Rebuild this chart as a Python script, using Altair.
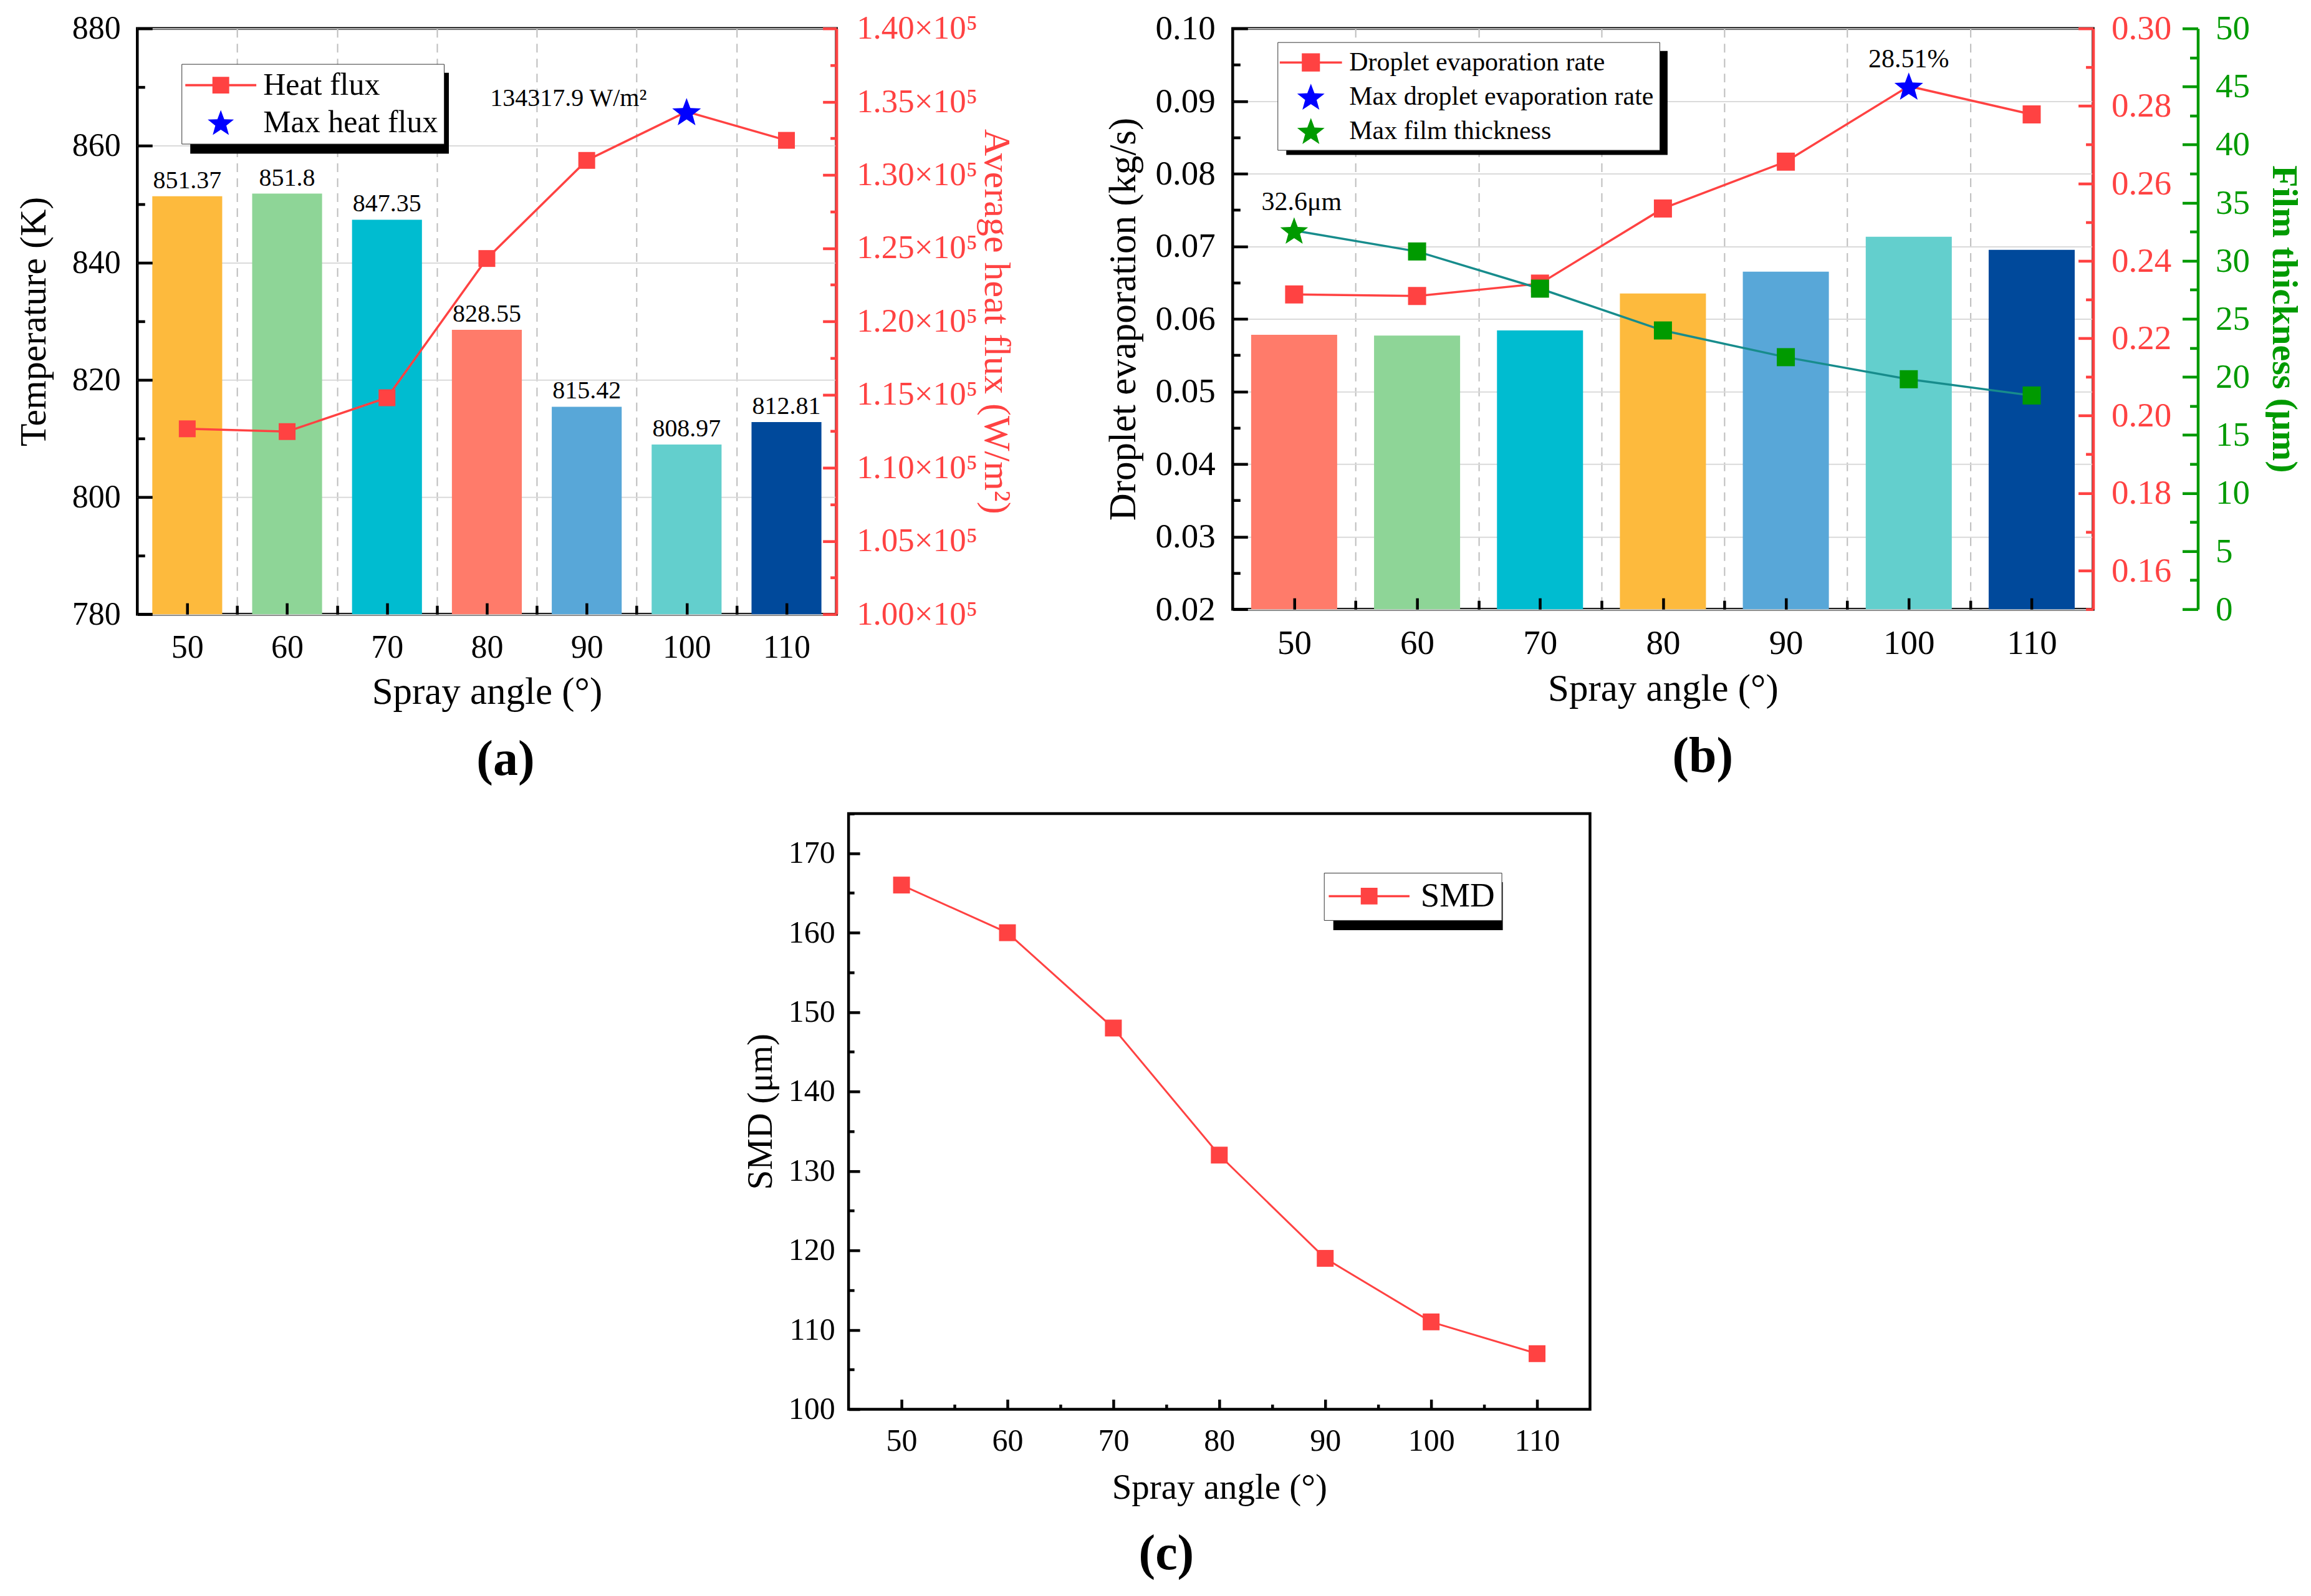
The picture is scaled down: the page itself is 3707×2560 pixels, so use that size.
import math

import altair as alt
import pandas as pd

FONT = "Liberation Serif"
RED = "#FF4242"
BLUE = "#0000FF"
GREEN = "#009A00"
TEAL = "#178C8C"

ANGLES = [50, 60, 70, 80, 90, 100, 110]

# panel (a)
TEMPERATURE = [851.37, 851.8, 847.35, 828.55, 815.42, 808.97, 812.81]
HEAT_FLUX = [112660, 112470, 114780, 124290, 130990, 134317.9, 132360]
BAR_COLORS_A = ["#FDBA3D", "#8ED597", "#00BCD0", "#FF7B6A", "#58A7D8", "#63CFCD", "#00499B"]
LEGEND_A = ["Heat flux", "Max heat flux"]

# panel (b)
DROPLET_EVAP = [0.0578, 0.0577, 0.0584, 0.0635, 0.0665, 0.0713, 0.0695]
EVAP_RATE = [0.2313, 0.2309, 0.2341, 0.2535, 0.2656, 0.2851, 0.2778]
FILM = [32.6, 30.8, 27.6, 24.0, 21.7, 19.8, 18.4]
BAR_COLORS_B = ["#FF7B6A", "#8ED597", "#00BCD0", "#FDBA3D", "#58A7D8", "#63CFCD", "#00499B"]
LEGEND_B = ["Droplet evaporation rate", "Max droplet evaporation rate", "Max film thickness"]

# panel (c)
SMD = [166, 160, 148, 132, 119, 111, 107]
LEGEND_C = ["SMD"]

# geometry
W_A, H_A = 1122, 940
W_B, H_B = 1381, 932
GREEN_OFFSET = 168
W_C, H_C = 1190, 956
X_DOMAIN = [45, 115]
BAR_HALF = 3.5

BOX_A = (71, 57, 415, 130)
BOX_B = (72, 22, 612, 167)
BOX_C = (763, 95, 272, 77)


def star_path(inner=0.42):
    pts = []
    for k in range(10):
        r = 1.0 if k % 2 == 0 else inner
        t = math.radians(-90 + 36 * k)
        pts.append(f"{r * math.cos(t):.4f},{r * math.sin(t) + 0.095:.4f}")
    return "M" + "L".join(pts) + "Z"


def line_square_path(half_len, half_sq, half_th):
    return (f"M{-half_len},{-half_th}L{half_len},{-half_th}L{half_len},{half_th}L{-half_len},{half_th}Z"
            f"M{-half_sq},{-half_sq}L{half_sq},{-half_sq}L{half_sq},{half_sq}L{-half_sq},{half_sq}Z")


STAR = star_path()


def xscale():
    return alt.Scale(domain=X_DOMAIN, nice=False, zero=False)


def yscale(lo, hi):
    return alt.Scale(domain=[lo, hi], nice=False, zero=False)


def steps(start, stop, step, nd=4):
    n = int(round((stop - start) / step))
    return [round(start + i * step, nd) for i in range(n + 1)]


def tick_axis(orient, offset, values, size, color="black"):
    return alt.Axis(orient=orient, offset=offset, values=values, labels=False, domain=False,
                    grid=False, ticks=True, tickSize=size, tickWidth=4.5, tickColor=color,
                    title=None, zindex=1)


def grid_axis(values):
    return alt.Axis(orient="bottom", values=values, labels=False, domain=False, ticks=False,
                    grid=True, gridColor="#BDBDBD", gridWidth=2, gridDash=[14, 10],
                    title=None, zindex=0)


def x_main(label_size, title_size, label_pad, title_pad):
    return alt.Axis(orient="bottom", values=ANGLES, labelFontSize=label_size,
                    labelPadding=label_pad, labelFlush=False, labelOverlap=False,
                    ticks=False, domain=False, grid=False, title="Spray angle (°)",
                    titleFontSize=title_size, titlePadding=title_pad, zindex=0)


def carrier(df, xf, yf, ysc, x_axis=None, y_axis=None):
    return alt.Chart(df).mark_point(opacity=0).encode(
        x=alt.X(xf, scale=xscale(), axis=x_axis),
        y=alt.Y(yf, scale=ysc, axis=y_axis),
    )


def legend_spec(box, font_size, sym_size, sym_offset, label_offset, padding, row_padding):
    return alt.Legend(orient="none", legendX=box[0], legendY=box[1], title=None,
                      labelFont=FONT, labelFontSize=font_size, labelColor="black",
                      labelLimit=2000, symbolSize=sym_size, symbolStrokeWidth=0,
                      symbolOffset=sym_offset, labelOffset=label_offset, padding=padding,
                      rowPadding=row_padding, fillColor="white", strokeColor="#333333")


def legend_layer(names, colors, shapes, leg, size):
    df = pd.DataFrame({"series": names})
    return alt.Chart(df).mark_point(filled=True, opacity=1, size=size, clip=True).encode(
        x=alt.XDatum(0, scale=xscale(), axis=None),
        y=alt.YDatum(0, scale=alt.Scale(domain=[1, 2]), axis=None),
        color=alt.Color("series:N", scale=alt.Scale(domain=names, range=colors), legend=leg),
        shape=alt.Shape("series:N", scale=alt.Scale(domain=names, range=shapes), legend=leg),
    )


def shadow_layer(box, shift=14):
    x0, y0, w, h = box
    return alt.Chart(pd.DataFrame({"part": ["shadow"]})).mark_rect(color="black").encode(
        x=alt.value(x0 + shift), x2=alt.value(x0 + w + shift),
        y=alt.value(y0 + shift), y2=alt.value(y0 + h + shift),
    )


def panel_title(text, dx=0):
    return alt.TitleParams(text=text, orient="bottom", fontSize=80, fontWeight="bold",
                           font=FONT, offset=40, anchor="middle", frame="bounds", dx=dx)


# ---------------- panel (a) ----------------
df_a = pd.DataFrame({"angle": ANGLES, "temp": TEMPERATURE, "flux": HEAT_FLUX,
                     "bar_color": BAR_COLORS_A})
df_a["lo"] = df_a["angle"] - BAR_HALF
df_a["hi"] = df_a["angle"] + BAR_HALF
df_a["is_max"] = df_a["flux"] == df_a["flux"].max()
df_a["temp_label"] = df_a["temp"].map(lambda v: f"{v:g}")
df_a["flux_label"] = df_a["flux"].map(lambda v: f"{v:.1f} W/m²")

T_MIN, T_MAX = 780, 880
T_SC = lambda: yscale(T_MIN, T_MAX)
F_SC = lambda: yscale(100000, 140000)

bars_a = alt.Chart(df_a).mark_bar().encode(
    x=alt.X("lo:Q", scale=xscale(), axis=x_main(52, 61, 28, 16)),
    x2="hi",
    y=alt.Y("temp:Q", scale=T_SC(), axis=alt.Axis(
        orient="left", values=steps(780, 880, 20), labelFontSize=52, labelPadding=27,
        ticks=False, domain=False, grid=True, gridColor="#DADADA", gridWidth=2,
        title="Temperature (K)", titleFontSize=60, titlePadding=30, zindex=0)),
    y2=alt.datum(T_MIN),
    fill=alt.Fill("bar_color:N", scale=None),
)
bar_text_a = alt.Chart(df_a).mark_text(font=FONT, fontSize=40, baseline="bottom", dy=-5,
                                       color="black").encode(
    x=alt.X("angle:Q", scale=xscale(), axis=grid_axis(steps(55, 105, 10))),
    y=alt.Y("temp:Q", scale=T_SC(), axis=tick_axis("right", -W_A, steps(780, 880, 20), 24)),
    text="temp_label:N",
)
car_a1 = carrier(df_a, "angle:Q", "temp:Q", T_SC(),
                 x_axis=tick_axis("top", -H_A, steps(50, 110, 10), 18),
                 y_axis=tick_axis("right", -W_A, steps(790, 870, 20), 12))
car_a2 = carrier(df_a, "angle:Q", "flux:Q", F_SC(),
                 x_axis=tick_axis("top", -H_A, steps(55, 105, 10), 14),
                 y_axis=tick_axis("left", -W_A, steps(100000, 140000, 5000), 22, RED))
line_a = alt.Chart(df_a).mark_line(color=RED, strokeWidth=3.5).encode(
    x=alt.X("angle:Q", scale=xscale(), axis=None),
    y=alt.Y("flux:Q", scale=F_SC(), axis=alt.Axis(
        orient="right", values=steps(100000, 140000, 5000),
        labelExpr="format(datum.value / 100000, '.2f') + '×10⁵'", labelColor=RED,
        labelFontSize=53, labelPadding=32, labelLimit=500, ticks=False, domain=True,
        domainColor=RED, domainWidth=4.5, grid=False, title="Average heat flux (W/m²)",
        titleColor=RED, titleFontSize=60, titlePadding=25, zindex=1)),
)
sq_a = alt.Chart(df_a).transform_filter("!datum.is_max").mark_point(
    shape="square", filled=True, size=729, opacity=1, color=RED).encode(
    x=alt.X("angle:Q", scale=xscale(), axis=None),
    y=alt.Y("flux:Q", scale=F_SC(), axis=tick_axis("left", -W_A, steps(102500, 137500, 5000), 10, RED)),
)
star_a = alt.Chart(df_a).transform_filter("datum.is_max").mark_point(
    shape=STAR, filled=True, size=2343, opacity=1, color=BLUE).encode(
    x=alt.X("angle:Q", scale=xscale(), axis=None),
    y=alt.Y("flux:Q", scale=F_SC(), axis=None),
)
ann_a = alt.Chart(df_a).transform_filter("datum.is_max").mark_text(
    font=FONT, fontSize=40, align="right", baseline="middle", dx=-64, dy=-21,
    color="black").encode(
    x=alt.X("angle:Q", scale=xscale(), axis=None),
    y=alt.Y("flux:Q", scale=F_SC(), axis=None),
    text="flux_label:N",
)
leg_a = legend_spec(BOX_A, 50, 1950, 29, 43, 9, 10)
legend_a = legend_layer(LEGEND_A, [RED, BLUE], [line_square_path(2.58, 0.61, 0.08), STAR], leg_a, 1950)

panel_a = alt.layer(
    bars_a, bar_text_a, car_a1, car_a2, line_a, sq_a, star_a, ann_a, shadow_layer(BOX_A), legend_a
).resolve_scale(y="independent").resolve_axis(x="independent", y="independent").properties(
    width=W_A, height=H_A, title=panel_title("(a)", -15))

# ---------------- panel (b) ----------------
df_b = pd.DataFrame({"angle": ANGLES, "evap": DROPLET_EVAP, "rate": EVAP_RATE, "film": FILM,
                     "bar_color": BAR_COLORS_B})
df_b["lo"] = df_b["angle"] - BAR_HALF
df_b["hi"] = df_b["angle"] + BAR_HALF
df_b["rate_max"] = df_b["rate"] == df_b["rate"].max()
df_b["film_max"] = df_b["film"] == df_b["film"].max()
df_b["rate_label"] = df_b["rate"].map(lambda v: f"{v * 100:.2f}%")
df_b["film_label"] = df_b["film"].map(lambda v: f"{v:.1f}μm")

E_MIN, E_MAX = 0.02, 0.10
E_SC = lambda: yscale(E_MIN, E_MAX)
R_SC = lambda: yscale(0.15, 0.30)
M_SC = lambda: yscale(0, 50)

bars_b = alt.Chart(df_b).mark_bar().encode(
    x=alt.X("lo:Q", scale=xscale(), axis=x_main(55, 61, 28, 16)),
    x2="hi",
    y=alt.Y("evap:Q", scale=E_SC(), axis=alt.Axis(
        orient="left", values=steps(0.02, 0.10, 0.01), format=".2f", labelFontSize=55,
        labelPadding=28, ticks=False, domain=False, grid=True, gridColor="#DADADA",
        gridWidth=2, title="Droplet evaporation (kg/s)", titleFontSize=61, titlePadding=20,
        zindex=0)),
    y2=alt.datum(E_MIN),
    fill=alt.Fill("bar_color:N", scale=None),
)
car_b1 = carrier(df_b, "angle:Q", "evap:Q", E_SC(),
                 x_axis=grid_axis(steps(55, 105, 10)),
                 y_axis=tick_axis("right", -W_B, steps(0.02, 0.10, 0.01), 24))
car_b2 = carrier(df_b, "angle:Q", "evap:Q", E_SC(),
                 x_axis=tick_axis("top", -H_B, steps(50, 110, 10), 18),
                 y_axis=tick_axis("right", -W_B, steps(0.025, 0.095, 0.01), 12))
car_b3 = carrier(df_b, "angle:Q", "rate:Q", R_SC(),
                 x_axis=tick_axis("top", -H_B, steps(55, 105, 10), 14),
                 y_axis=tick_axis("left", -W_B, steps(0.16, 0.30, 0.02), 24, RED))
car_b4 = carrier(df_b, "angle:Q", "film:Q", M_SC(),
                 y_axis=tick_axis("left", -(W_B + GREEN_OFFSET), steps(0, 50, 5), 25, GREEN))
line_rate = alt.Chart(df_b).mark_line(color=RED, strokeWidth=3.5).encode(
    x=alt.X("angle:Q", scale=xscale(), axis=None),
    y=alt.Y("rate:Q", scale=R_SC(), axis=alt.Axis(
        orient="right", values=steps(0.16, 0.30, 0.02), format=".2f", labelColor=RED,
        labelFontSize=55, labelPadding=29, ticks=False, domain=True, domainColor=RED,
        domainWidth=4.5, grid=False, title=None, zindex=1)),
)
sq_rate = alt.Chart(df_b).transform_filter("!datum.rate_max").mark_point(
    shape="square", filled=True, size=841, opacity=1, color=RED).encode(
    x=alt.X("angle:Q", scale=xscale(), axis=None),
    y=alt.Y("rate:Q", scale=R_SC(), axis=tick_axis("left", -W_B, steps(0.15, 0.29, 0.02), 12, RED)),
)
star_rate = alt.Chart(df_b).transform_filter("datum.rate_max").mark_point(
    shape=STAR, filled=True, size=2343, opacity=1, color=BLUE).encode(
    x=alt.X("angle:Q", scale=xscale(), axis=None),
    y=alt.Y("rate:Q", scale=R_SC(), axis=None),
)
ann_rate = alt.Chart(df_b).transform_filter("datum.rate_max").mark_text(
    font=FONT, fontSize=42, align="center", baseline="middle", dy=-43, color="black").encode(
    x=alt.X("angle:Q", scale=xscale(), axis=None),
    y=alt.Y("rate:Q", scale=R_SC(), axis=None),
    text="rate_label:N",
)
line_film = alt.Chart(df_b).mark_line(color=TEAL, strokeWidth=3.5).encode(
    x=alt.X("angle:Q", scale=xscale(), axis=None),
    y=alt.Y("film:Q", scale=M_SC(), axis=alt.Axis(
        orient="right", offset=GREEN_OFFSET, values=steps(0, 50, 5), labelColor=GREEN,
        labelFontSize=55, labelPadding=28, ticks=False, domain=True, domainColor=GREEN,
        domainWidth=4.5, grid=False, title="Film thickness (μm)", titleColor=GREEN,
        titleFontWeight="bold", titleFontSize=58, titlePadding=25, zindex=1)),
)
sq_film = alt.Chart(df_b).transform_filter("!datum.film_max").mark_point(
    shape="square", filled=True, size=841, opacity=1, color=GREEN).encode(
    x=alt.X("angle:Q", scale=xscale(), axis=None),
    y=alt.Y("film:Q", scale=M_SC(),
            axis=tick_axis("left", -(W_B + GREEN_OFFSET), steps(2.5, 47.5, 5), 13, GREEN)),
)
star_film = alt.Chart(df_b).transform_filter("datum.film_max").mark_point(
    shape=STAR, filled=True, size=2200, opacity=1, color=GREEN).encode(
    x=alt.X("angle:Q", scale=xscale(), axis=None),
    y=alt.Y("film:Q", scale=M_SC(), axis=None),
)
ann_film = alt.Chart(df_b).transform_filter("datum.film_max").mark_text(
    font=FONT, fontSize=42, align="center", baseline="middle", dx=12, dy=-46,
    color="black").encode(
    x=alt.X("angle:Q", scale=xscale(), axis=None),
    y=alt.Y("film:Q", scale=M_SC(), axis=None),
    text="film_label:N",
)
leg_b = legend_spec(BOX_B, 42, 2135, 21, 38, 9, 10)
legend_b = legend_layer(LEGEND_B, [RED, BLUE, GREEN],
                        [line_square_path(2.16, 0.63, 0.076), STAR, STAR], leg_b, 2135)

panel_b = alt.layer(
    bars_b, car_b1, car_b2, car_b3, car_b4, line_rate, sq_rate, line_film, sq_film,
    star_rate, star_film, ann_rate, ann_film, shadow_layer(BOX_B), legend_b
).resolve_scale(y="independent").resolve_axis(x="independent", y="independent").properties(
    width=W_B, height=H_B, title=panel_title("(b)"))

# ---------------- panel (c) ----------------
df_c = pd.DataFrame({"angle": ANGLES, "smd": SMD})
S_SC = lambda: yscale(100, 175)

line_c = alt.Chart(df_c).mark_line(color=RED, strokeWidth=3).encode(
    x=alt.X("angle:Q", scale=xscale(), axis=x_main(50, 57, 26, 22)),
    y=alt.Y("smd:Q", scale=S_SC(), axis=alt.Axis(
        orient="left", values=steps(100, 170, 10), labelFontSize=50, labelPadding=22,
        ticks=False, domain=False, grid=False, title="SMD (μm)", titleFontSize=57,
        titlePadding=15, zindex=0)),
)
pts_c = alt.Chart(df_c).mark_point(shape="square", filled=True, size=729, opacity=1,
                                   color=RED).encode(
    x=alt.X("angle:Q", scale=xscale(), axis=tick_axis("top", -H_C, steps(50, 110, 10), 16)),
    y=alt.Y("smd:Q", scale=S_SC(), axis=tick_axis("right", -W_C, steps(100, 170, 10), 18)),
)
car_c = carrier(df_c, "angle:Q", "smd:Q", S_SC(),
                x_axis=tick_axis("top", -H_C, steps(55, 105, 10), 8),
                y_axis=tick_axis("right", -W_C, steps(105, 175, 10), 9))
leg_c = legend_spec(BOX_C, 55, 2304, 35, 55, 10, 0)
legend_c = legend_layer(LEGEND_C, [RED], [line_square_path(2.7, 0.56, 0.073)], leg_c, 2304)

panel_c = alt.layer(
    line_c, pts_c, car_c, shadow_layer(BOX_C, 15), legend_c
).resolve_scale(y="independent").resolve_axis(x="independent", y="independent").properties(
    width=W_C, height=H_C, title=panel_title("(c)"))

top = alt.hconcat(panel_a, panel_b, spacing=138).resolve_scale(
    color="independent", shape="independent")
chart = alt.vconcat(top, panel_c, spacing=38, center=True).resolve_scale(
    color="independent", shape="independent"
).properties(
    padding={"left": 14, "top": 7, "right": 5, "bottom": 5}, background="white"
).configure_view(
    stroke="black", strokeWidth=4.5
).configure_axis(
    labelFont=FONT, titleFont=FONT, labelColor="black", titleColor="black",
    titleFontWeight="normal"
).configure_title(font=FONT, color="black")

chart.save("out.html", embed_options={"renderer": "svg", "actions": False})
